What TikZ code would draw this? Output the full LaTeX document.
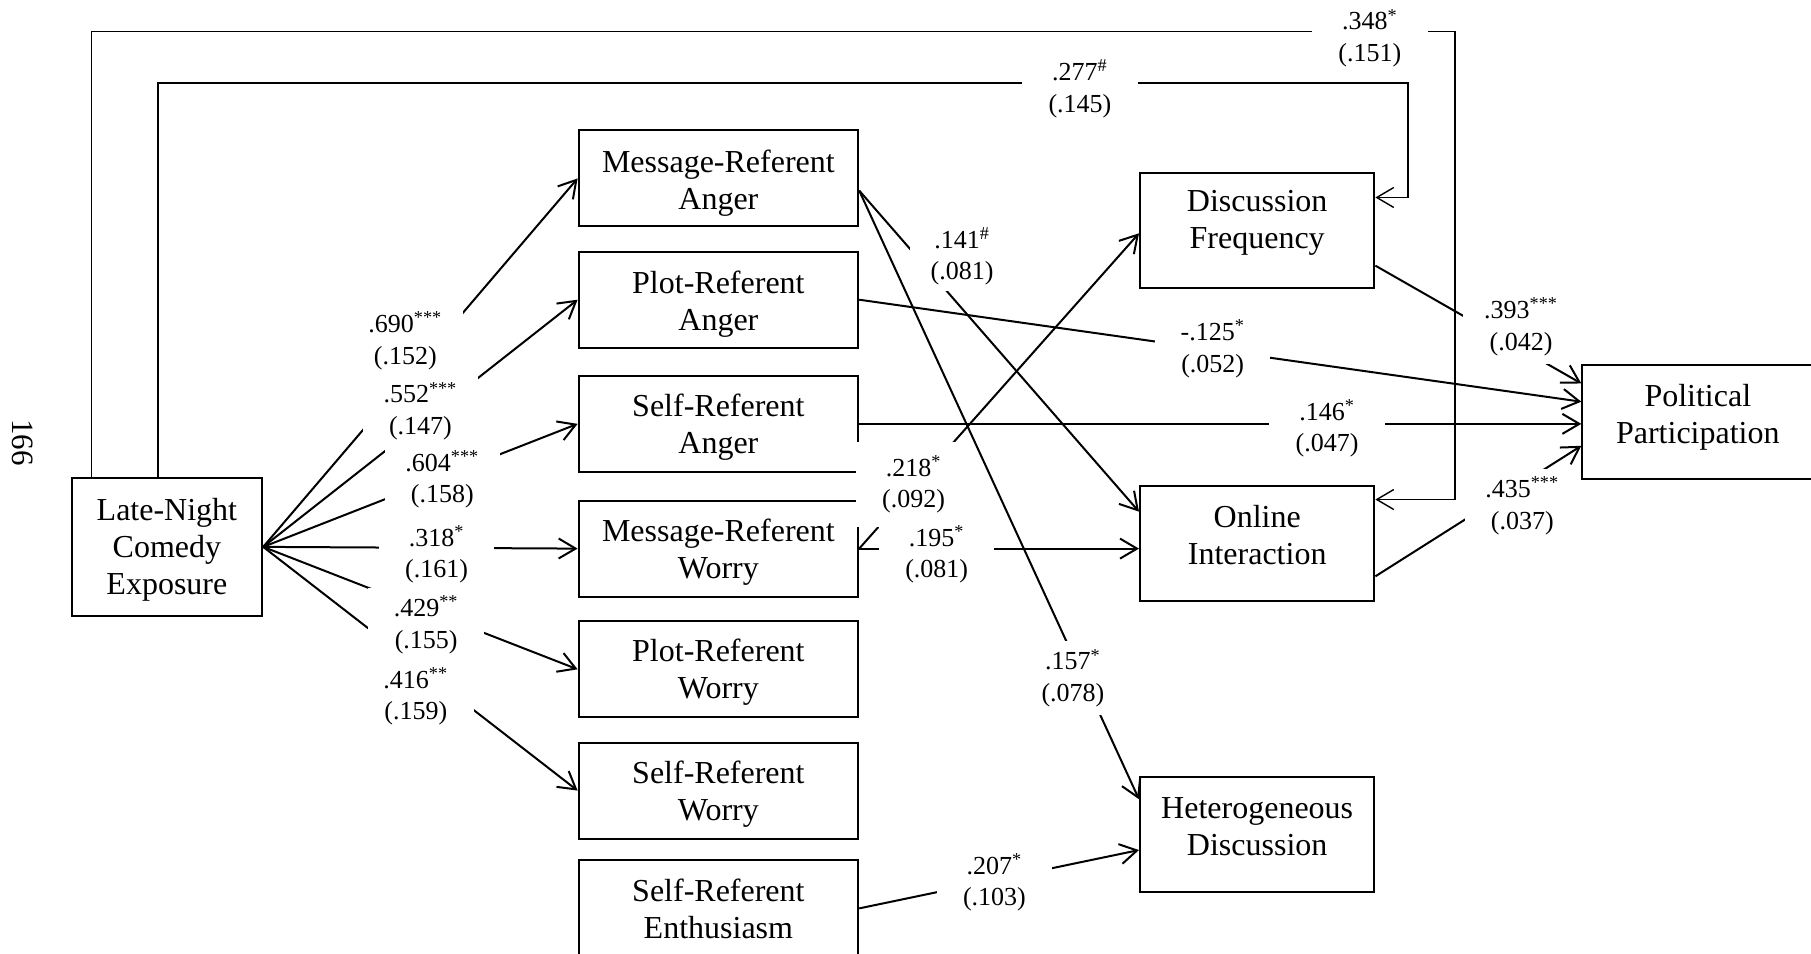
\documentclass[tikz,border=0pt]{standalone}
\usepackage{fontspec}
\setmainfont{Liberation Serif}
\usetikzlibrary{arrows.meta}
\begin{document}
\begin{tikzpicture}[x=0.5775pt,y=-0.5775pt,
  txt/.style={align=center, inner sep=0pt, font=\fontsize{16}{18.5}\selectfont},
  box/.style={draw, line width=1pt, inner sep=0pt},
  tbox/.style n args={2}{label={[txt, yshift=#2]center:{#1}}},
  midbox/.style={box, minimum width=139.8pt, minimum height=48pt},
  outbox/.style={box, minimum width=117.2pt, minimum height=57.2pt},
  lab/.style={fill=white, inner sep=0pt, minimum width=57.75pt,
    minimum height=37pt, align=center, font=\fontsize{13}{15.8}\selectfont},
  conn/.style={line width=1pt, -{Straight Barb[length=8.5pt,width=10pt]}},
  loopconn/.style={conn, line width=0.7pt}]

\useasboundingbox (0,0) rectangle (1568,826);

% variables
\node[box, minimum width=95.3pt, minimum height=69.3pt,
  tbox={Late-Night\\Comedy\\Exposure}{-1.4pt}] (lnce) at (144.5,473.5) {};
\node[midbox, tbox={Message-Referent\\Anger}{-2.6pt}] (mra) at (622,154.5) {};
\node[midbox, tbox={Plot-Referent\\Anger}{-2pt}] (pra) at (622,259.5) {};
\node[midbox, tbox={Self-Referent\\Anger}{-1.8pt}] (sra) at (622,367) {};
\node[midbox, tbox={Message-Referent\\Worry}{-1.8pt}] (mrw) at (622,475) {};
\node[midbox, tbox={Plot-Referent\\Worry}{-1.5pt}] (prw) at (622,579.5) {};
\node[midbox, tbox={Self-Referent\\Worry}{-2pt}] (srw) at (622,684.5) {};
\node[midbox, tbox={Self-Referent\\Enthusiasm}{-0.4pt}] (sre) at (622,786.5) {};
\node[outbox, tbox={Discussion\\Frequency}{3.6pt}] (df) at (1088.5,199.5) {};
\node[outbox, tbox={Online\\Interaction}{4.2pt}] (oi) at (1088.5,470.5) {};
\node[outbox, tbox={Heterogeneous\\Discussion}{4pt}] (hd) at (1088.5,722.5) {};
\node[box, minimum width=115.5pt, minimum height=57.2pt,
  tbox={Political\\Participation}{2.6pt}] (pp) at (1470,365.5) {};

% page number
\node[rotate=-90, font=\fontsize{15.5}{18}\selectfont] (pgno) at (20,383) {166};

% direct paths from exposure
\draw[loopconn] (79,0 |- lnce.north) |- (1259.8,27.4) |- (oi.east |- 0,432.5);
\draw[loopconn] (136.8,0 |- lnce.north) |- (1219,72) |- (df.east |- 0,171);

% exposure to emotions
\draw[conn] (lnce.east) -- (mra.west);
\draw[conn] (lnce.east) -- (pra.west);
\draw[conn] (lnce.east) -- (sra.west);
\draw[conn] (lnce.east) -- (mrw.west);
\draw[conn] (lnce.east) -- (prw.west);
\draw[conn] (lnce.east) -- (srw.west);

% emotions to discussion and interaction
\draw[conn] (mra.east |- 0,165) -- (oi.west |- 0,443);
\draw[conn] (mra.east |- 0,165) -- (hd.west |- 0,692);
\draw[conn] (pra.east) -- (pp.west |- 0,347.8);
\draw[conn] (sra.east) -- (pp.west |- sra.east);
\draw[conn] (mrw.east) -- (df.west |- 0,202);
\draw[conn] (mrw.east) -- (oi.west |- mrw.east);
\draw[conn] (sre.east) -- (hd.west |- 0,736);

% to participation
\draw[conn] (df.east |- 0,230) -- (pp.west |- 0,332);
\draw[conn] (oi.east |- 0,499) -- (pp.west |- 0,386);

% coefficients
\node[lab] (l348) at (1186,33) {.348\textsuperscript{*}\\(.151)};
\node[lab] (l277) at (935,77) {.277\textsuperscript{\#}\\(.145)};
\node[lab] (l690) at (351,295) {.690\textsuperscript{***}\\(.152)};
\node[lab] (l552) at (364,356) {.552\textsuperscript{***}\\(.147)};
\node[lab] (l604) at (383,415) {.604\textsuperscript{***}\\(.158)};
\node[lab] (l318) at (378,480) {.318\textsuperscript{*}\\(.161)};
\node[lab] (l429) at (369,541) {.429\textsuperscript{**}\\(.155)};
\node[lab] (l416) at (360,603) {.416\textsuperscript{**}\\(.159)};
\node[lab, minimum width=52pt, minimum height=34.65pt] (l141) at (833,222) {.141\textsuperscript{\#}\\(.081)};
\node[lab, minimum height=42.2pt] (l218) at (791,419.5) {.218\textsuperscript{*}\\(.092)};
\node[lab] (l195) at (811,480) {.195\textsuperscript{*}\\(.081)};
\node[lab] (l125) at (1050,302) {-.125\textsuperscript{*}\\(.052)};
\node[lab] (l146) at (1149,371) {.146\textsuperscript{*}\\(.047)};
\node[lab] (l393) at (1317,283) {.393\textsuperscript{***}\\(.042)};
\node[lab] (l435) at (1318,438) {.435\textsuperscript{***}\\(.037)};
\node[lab] (l157) at (929,587) {.157\textsuperscript{*}\\(.078)};
\node[lab] (l207) at (861,764) {.207\textsuperscript{*}\\(.103)};

\end{tikzpicture}
\end{document}
